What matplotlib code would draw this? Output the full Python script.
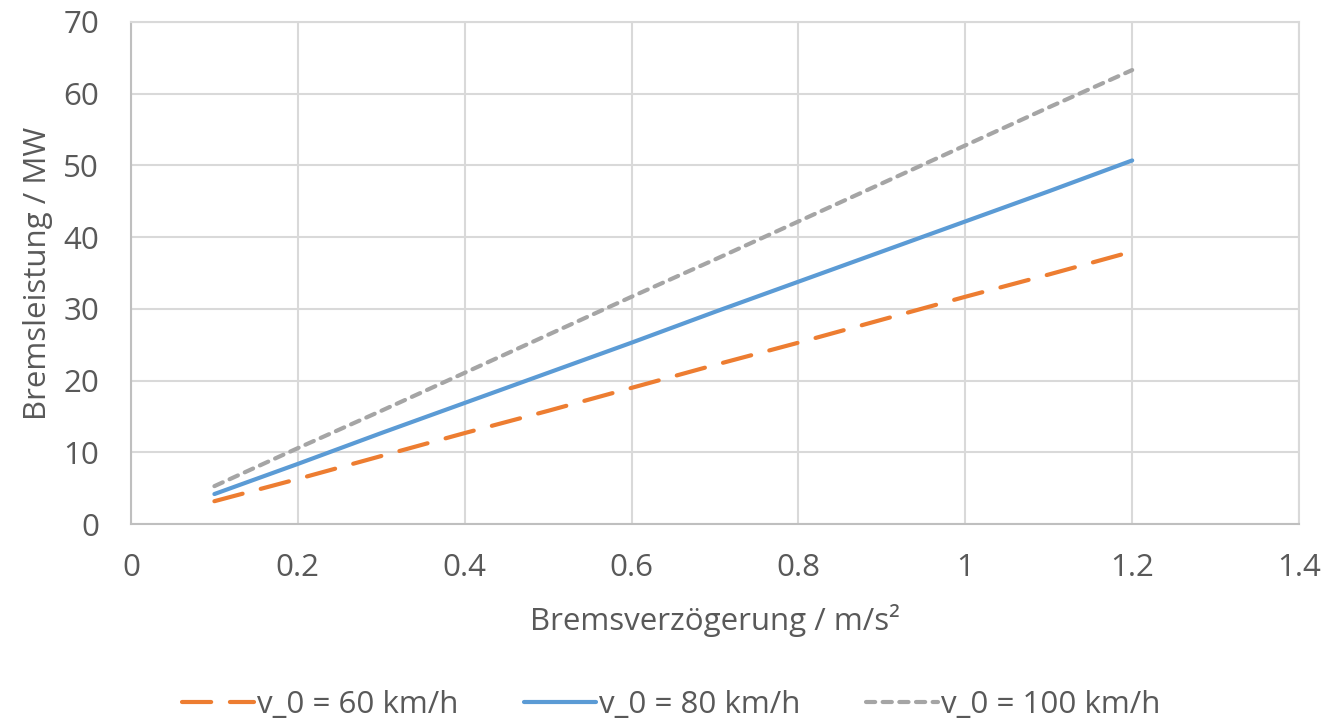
import matplotlib
matplotlib.use("Agg")
import matplotlib.pyplot as plt

# Bremsverzögerung in m/s², Bremsleistung in MW
verzoegerung = [0.1, 0.2, 0.3, 0.4, 0.5, 0.6, 0.7, 0.8, 0.9, 1.0, 1.1, 1.2]
leistung_60 = [3.2, 6.3, 9.5, 12.7, 15.8, 19.0, 22.2, 25.3, 28.5, 31.7, 34.8, 38.0]
leistung_80 = [4.2, 8.4, 12.7, 16.9, 21.1, 25.3, 29.6, 33.8, 38.0, 42.2, 46.4, 50.7]
leistung_100 = [5.3, 10.6, 15.8, 21.1, 26.4, 31.7, 36.9, 42.2, 47.5, 52.8, 58.1, 63.3]
labels = ["v_0 = 60 km/h", "v_0 = 80 km/h", "v_0 = 100 km/h"]
x_ticks = [0, 0.2, 0.4, 0.6, 0.8, 1, 1.2, 1.4]
x_ticklabels = ["0", "0.2", "0.4", "0.6", "0.8", "1", "1.2", "1.4"]
y_ticks = [0, 10, 20, 30, 40, 50, 60, 70]

plt.rcParams["font.family"] = ["Open Sans", "DejaVu Sans"]
textfarbe = "#595959"
gitter = "#d9d9d9"
fs = 22.5

fig = plt.figure(figsize=(13.42, 7.21), dpi=100)
ax = fig.add_axes([0.0976, 0.273, 0.8704, 0.6965])

lw = 3
ax.plot(verzoegerung, leistung_60, color="#ed7d31", lw=lw, dashes=(7, 4.5),
        dash_capstyle="round", label=labels[0])
ax.plot(verzoegerung, leistung_80, color="#5b9bd5", lw=lw,
        solid_capstyle="round", label=labels[1])
ax.plot(verzoegerung, leistung_100, color="#a5a5a5", lw=lw, dashes=(2.2, 1.8),
        dash_capstyle="round", label=labels[2])

ax.set_xlim(0, 1.4)
ax.set_ylim(0, 70)
ax.set_xticks(x_ticks)
ax.set_xticklabels(x_ticklabels)
ax.set_yticks(y_ticks)
ax.grid(True, color=gitter, lw=1.5)
ax.set_axisbelow(True)
for s in ax.spines.values():
    s.set_color(gitter)
    s.set_linewidth(1.5)
ax.spines["left"].set_color("#bfbfbf")
ax.spines["bottom"].set_color("#bfbfbf")
ax.tick_params(length=0, labelsize=fs, colors=textfarbe)
ax.tick_params(axis="x", pad=21)
ax.tick_params(axis="y", pad=23)

ax.set_xlabel("Bremsverzögerung / m/s²", fontsize=fs, color=textfarbe, labelpad=15)
ax.set_ylabel("Bremsleistung / MW", fontsize=fs, color=textfarbe, labelpad=7)

fig.legend(loc="center", bbox_to_anchor=(0.5, 0.022), ncol=3, frameon=False,
           fontsize=fs, handlelength=2.3, handletextpad=0.1, columnspacing=2.1,
           labelcolor=textfarbe)

fig.savefig("out.png", dpi=100)
